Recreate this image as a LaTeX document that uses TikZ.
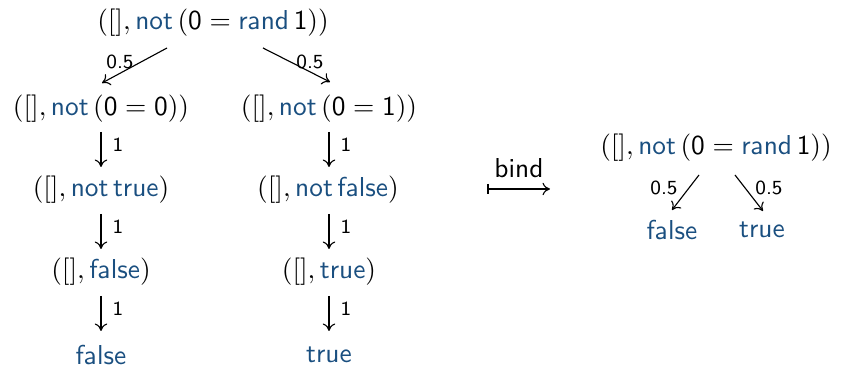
\documentclass[tikz,border=0pt]{standalone}
\usetikzlibrary{arrows.meta}
\definecolor{kwc}{RGB}{26,79,128}
\newcommand{\kw}[1]{\textcolor{kwc}{\mathsf{#1}}}
\newcommand{\nm}[1]{\mathsf{#1}}
\begin{document}
\begin{tikzpicture}[x=0.4pt,y=-0.4pt,
  term/.style={inner sep=0pt,font=\fontsize{10.95}{13}\selectfont\sffamily},
  lab/.style={inner sep=0pt,font=\fontsize{8}{9}\selectfont\sffamily},
  arr/.style={-{To[length=3pt,width=5pt]},line width=0.45pt}]
\useasboundingbox (0,0) rectangle (842,370);
% left tree
\node[term] (t0) at (213,23) {$([],\kw{not}\,(\nm{0}=\kw{rand}\,\nm{1}))$};
\node[term] (a1) at (101,109) {$([],\kw{not}\,(\nm{0}=\nm{0}))$};
\node[term] (b1) at (329,109) {$([],\kw{not}\,(\nm{0}=\nm{1}))$};
\node[term] (a2) at (101,190) {$([],\kw{not}\,\kw{true})$};
\node[term] (b2) at (328,190) {$([],\kw{not}\,\kw{false})$};
\node[term] (a3) at (101,272) {$([],\kw{false})$};
\node[term] (b3) at (329,272) {$([],\kw{true})$};
\node[term] (a4) at (101,355) {$\kw{false}$};
\node[term] (b4) at (329,355) {$\kw{true}$};
\coordinate (t0l) at (167,48);
\coordinate (a1t) at (102,83);
\coordinate (t0r) at (263,48);
\coordinate (b1t) at (330,82);
\draw[arr] (t0l) -- (a1t);
\draw[arr] (t0r) -- (b1t);
\node[lab] (l1) at (120,62) {0.5};
\node[lab] (l2) at (310,62) {0.5};
\foreach \p/\q/\xx/\yy in {a1/a2/101/132, a2/a3/101/214, a3/a4/101/296, b1/b2/329/132, b2/b3/329/214, b3/b4/329/296}{
  \coordinate (\p s) at (\xx,\yy);
  \coordinate (\q n) at (\xx,\yy+35);
  \draw[arr] (\p s) -- (\q n);
  \node[lab] at (\xx+17,\yy+13) {1};
}
% bind arrow
\coordinate (bs) at (488,189);
\coordinate (be) at (550,189);
\draw[arr] (bs) -- (be);
\draw[line width=0.45pt] (488,184) -- (488,194);
\node[term] (bind) at (519,168) {bind};
% right tree
\node[term] (r0) at (716,148) {$([],\kw{not}\,(\nm{0}=\kw{rand}\,\nm{1}))$};
\node[term] (rf) at (672,230) {$\kw{false}$};
\node[term] (rt) at (762,230) {$\kw{true}$};
\coordinate (r0l) at (699,175);
\coordinate (rfn) at (672,210);
\coordinate (r0r) at (735,175);
\coordinate (rtn) at (763,211);
\draw[arr] (r0l) -- (rfn);
\draw[arr] (r0r) -- (rtn);
\node[lab] (l3) at (664,188) {0.5};
\node[lab] (l4) at (769,188) {0.5};
\end{tikzpicture}
\end{document}
